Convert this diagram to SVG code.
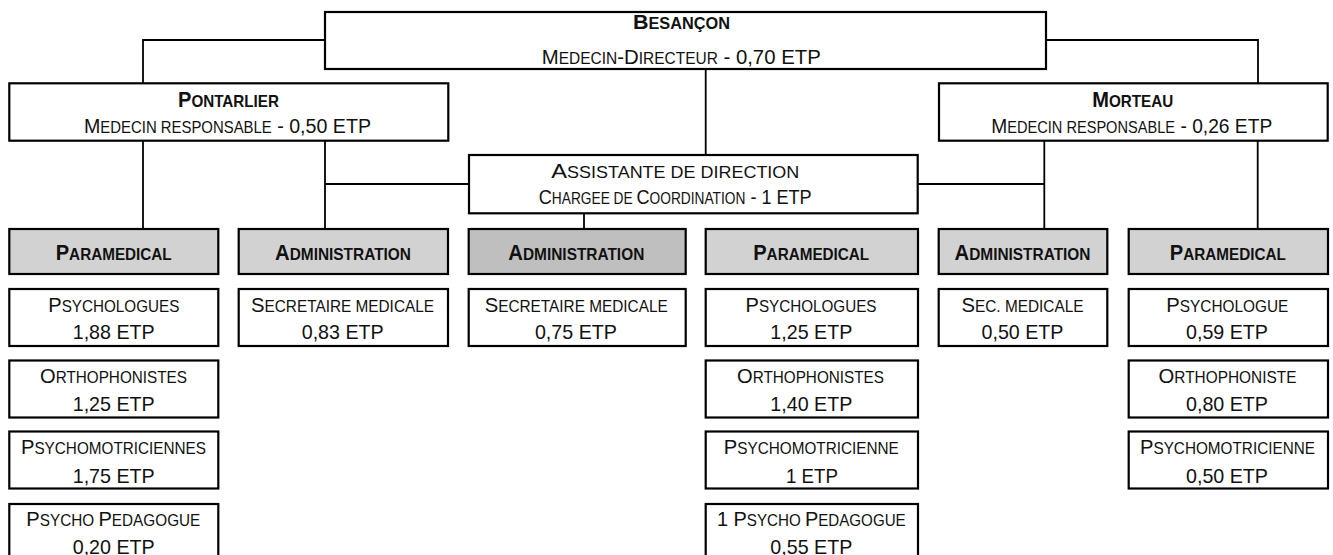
<svg xmlns="http://www.w3.org/2000/svg" width="1333" height="555" viewBox="0 0 1333 555">
  <style>
    .box { fill: #ffffff; stroke: #000000; stroke-width: 2.2; }
    .hdr { fill: #d2d2d2; }
    .hdr-dark { fill: #bfbfbf; }
    .link { fill: none; stroke: #000000; stroke-width: 1.8; }
    text { font-family: "Liberation Sans", Arial, sans-serif; text-anchor: middle; fill: #111111; }
    .t { font-size: 21px; }
    .s { font-size: 20.5px; }
    .b { font-size: 22px; font-weight: bold; }
    .bt { font-size: 20.5px; font-weight: bold; }
    .sc { font-size: 0.76em; }
  </style>
  <rect width="1333" height="555" fill="#ffffff"/>

  <!-- connectors -->
  <g id="connectors">
    <path class="link" d="M325,40 H143 V83"/>
    <path class="link" d="M1046,40 H1258 V83"/>
    <path class="link" d="M705.7,69 V155"/>
    <path class="link" d="M143,141 V229"/>
    <path class="link" d="M325,141 V229"/>
    <path class="link" d="M325,184 H469"/>
    <path class="link" d="M1044.3,141 V229"/>
    <path class="link" d="M1257.7,141 V229"/>
    <path class="link" d="M918,184 H1044.3"/>
    <path class="link" d="M584,213 V229"/>
  </g>

  <!-- management -->
  <g id="besancon">
    <rect class="box" x="325" y="12" width="721" height="57"/>
    <text class="bt" x="681.5" y="28.5" textLength="97" lengthAdjust="spacingAndGlyphs">B<tspan class="sc">ESANÇON</tspan></text>
    <text class="s" x="681.3" y="64" textLength="279" lengthAdjust="spacingAndGlyphs">M<tspan class="sc">EDECIN</tspan>-D<tspan class="sc">IRECTEUR</tspan> - 0,70 ETP</text>
  </g>
  <g id="pontarlier">
    <rect class="box" x="9.3" y="83.3" width="439" height="57.4"/>
    <text class="b" x="228.5" y="106.7" textLength="101" lengthAdjust="spacingAndGlyphs">P<tspan class="sc">ONTARLIER</tspan></text>
    <text class="s" x="227.5" y="133.3" textLength="287" lengthAdjust="spacingAndGlyphs">M<tspan class="sc">EDECIN RESPONSABLE</tspan> - 0,50 ETP</text>
  </g>
  <g id="morteau">
    <rect class="box" x="939" y="83.3" width="388.7" height="57.4"/>
    <text class="b" x="1132.7" y="106.7" textLength="81" lengthAdjust="spacingAndGlyphs">M<tspan class="sc">ORTEAU</tspan></text>
    <text class="s" x="1131.7" y="133.3" textLength="281" lengthAdjust="spacingAndGlyphs">M<tspan class="sc">EDECIN RESPONSABLE</tspan> - 0,26 ETP</text>
  </g>
  <g id="assistante">
    <rect class="box" x="469" y="155" width="448.7" height="58.3"/>
    <text class="s" x="675.3" y="178.3" textLength="248" lengthAdjust="spacingAndGlyphs">A<tspan class="sc">SSISTANTE DE DIRECTION</tspan></text>
    <text class="s" transform="translate(675.2,204) scale(0.882,1)" x="0" y="0">C<tspan class="sc">HARGEE DE </tspan>C<tspan class="sc">OORDINATION</tspan> - 1 ETP</text>
  </g>

  <!-- section headers -->
  <g id="hdr-pontarlier-paramedical">
    <rect class="box hdr" x="9.3" y="229" width="209" height="45"/>
    <text class="b" x="113.7" y="260" textLength="116" lengthAdjust="spacingAndGlyphs">P<tspan class="sc">ARAMEDICAL</tspan></text>
  </g>
  <g id="hdr-pontarlier-administration">
    <rect class="box hdr" x="238.7" y="229" width="209.3" height="45"/>
    <text class="b" x="343" y="260" textLength="136" lengthAdjust="spacingAndGlyphs">A<tspan class="sc">DMINISTRATION</tspan></text>
  </g>
  <g id="hdr-besancon-administration">
    <rect class="box hdr-dark" x="468.7" y="229" width="217" height="45"/>
    <text class="b" x="576.3" y="260" textLength="136" lengthAdjust="spacingAndGlyphs">A<tspan class="sc">DMINISTRATION</tspan></text>
  </g>
  <g id="hdr-besancon-paramedical">
    <rect class="box hdr" x="705.7" y="229" width="212.3" height="45"/>
    <text class="b" x="811.2" y="260" textLength="116" lengthAdjust="spacingAndGlyphs">P<tspan class="sc">ARAMEDICAL</tspan></text>
  </g>
  <g id="hdr-morteau-administration">
    <rect class="box hdr" x="938.7" y="229" width="168.6" height="45"/>
    <text class="b" x="1022.5" y="260" textLength="136" lengthAdjust="spacingAndGlyphs">A<tspan class="sc">DMINISTRATION</tspan></text>
  </g>
  <g id="hdr-morteau-paramedical">
    <rect class="box hdr" x="1128.7" y="229" width="199.3" height="45"/>
    <text class="b" x="1227.8" y="260" textLength="116" lengthAdjust="spacingAndGlyphs">P<tspan class="sc">ARAMEDICAL</tspan></text>
  </g>

  <!-- Pontarlier paramedical staff -->
  <g id="p-psychologues">
    <rect class="box" x="9.3" y="289" width="209" height="57"/>
    <text class="t" x="113.8" y="311.7" textLength="131" lengthAdjust="spacingAndGlyphs">P<tspan class="sc">SYCHOLOGUES</tspan></text>
    <text class="t" x="113.7" y="339.3" textLength="82" lengthAdjust="spacingAndGlyphs">1,88 ETP</text>
  </g>
  <g id="p-orthophonistes">
    <rect class="box" x="9.3" y="360.5" width="209" height="57"/>
    <text class="t" x="113.5" y="383.3" textLength="147" lengthAdjust="spacingAndGlyphs">O<tspan class="sc">RTHOPHONISTES</tspan></text>
    <text class="t" x="113.7" y="410.7" textLength="82" lengthAdjust="spacingAndGlyphs">1,25 ETP</text>
  </g>
  <g id="p-psychomotriciennes">
    <rect class="box" x="9.3" y="431.5" width="209" height="57"/>
    <text class="t" x="113.5" y="454.3" textLength="185" lengthAdjust="spacingAndGlyphs">P<tspan class="sc">SYCHOMOTRICIENNES</tspan></text>
    <text class="t" x="113.7" y="482.7" textLength="82" lengthAdjust="spacingAndGlyphs">1,75 ETP</text>
  </g>
  <g id="p-psychopedagogue">
    <rect class="box" x="9.3" y="504" width="209" height="57"/>
    <text class="t" x="113.3" y="526" textLength="174" lengthAdjust="spacingAndGlyphs">P<tspan class="sc">SYCHO </tspan>P<tspan class="sc">EDAGOGUE</tspan></text>
    <text class="t" x="113.7" y="553.5" textLength="82" lengthAdjust="spacingAndGlyphs">0,20 ETP</text>
  </g>

  <!-- Pontarlier administration -->
  <g id="p-secretaire">
    <rect class="box" x="238.7" y="289" width="209.3" height="57"/>
    <text class="t" x="342.5" y="311.7" textLength="183" lengthAdjust="spacingAndGlyphs">S<tspan class="sc">ECRETAIRE MEDICALE</tspan></text>
    <text class="t" x="342.7" y="339.3" textLength="82" lengthAdjust="spacingAndGlyphs">0,83 ETP</text>
  </g>

  <!-- Besançon administration -->
  <g id="b-secretaire">
    <rect class="box" x="468.7" y="289" width="217" height="57"/>
    <text class="t" x="576.2" y="311.7" textLength="183" lengthAdjust="spacingAndGlyphs">S<tspan class="sc">ECRETAIRE MEDICALE</tspan></text>
    <text class="t" x="575.9" y="339.3" textLength="82" lengthAdjust="spacingAndGlyphs">0,75 ETP</text>
  </g>

  <!-- Besançon paramedical staff -->
  <g id="b-psychologues">
    <rect class="box" x="705.7" y="289" width="212.3" height="57"/>
    <text class="t" x="811" y="311.7" textLength="131" lengthAdjust="spacingAndGlyphs">P<tspan class="sc">SYCHOLOGUES</tspan></text>
    <text class="t" x="811.3" y="339.3" textLength="82" lengthAdjust="spacingAndGlyphs">1,25 ETP</text>
  </g>
  <g id="b-orthophonistes">
    <rect class="box" x="705.7" y="360.5" width="212.3" height="57"/>
    <text class="t" x="810.5" y="383.3" textLength="147" lengthAdjust="spacingAndGlyphs">O<tspan class="sc">RTHOPHONISTES</tspan></text>
    <text class="t" x="811.3" y="410.7" textLength="82" lengthAdjust="spacingAndGlyphs">1,40 ETP</text>
  </g>
  <g id="b-psychomotricienne">
    <rect class="box" x="705.7" y="431.5" width="212.3" height="57"/>
    <text class="t" x="811.3" y="454.3" textLength="175" lengthAdjust="spacingAndGlyphs">P<tspan class="sc">SYCHOMOTRICIENNE</tspan></text>
    <text class="t" x="812" y="482.7" textLength="52" lengthAdjust="spacingAndGlyphs">1 ETP</text>
  </g>
  <g id="b-psychopedagogue">
    <rect class="box" x="705.7" y="504" width="212.3" height="57"/>
    <text class="t" transform="translate(811.3,526) scale(0.95,1)" x="0" y="0">1 P<tspan class="sc">SYCHO </tspan>P<tspan class="sc">EDAGOGUE</tspan></text>
    <text class="t" x="811.3" y="553.5" textLength="82" lengthAdjust="spacingAndGlyphs">0,55 ETP</text>
  </g>

  <!-- Morteau administration -->
  <g id="m-secretaire">
    <rect class="box" x="938.7" y="289" width="168.6" height="57"/>
    <text class="t" x="1022.5" y="311.7" textLength="122" lengthAdjust="spacingAndGlyphs">S<tspan class="sc">EC. MEDICALE</tspan></text>
    <text class="t" x="1022.5" y="339.3" textLength="82" lengthAdjust="spacingAndGlyphs">0,50 ETP</text>
  </g>

  <!-- Morteau paramedical staff -->
  <g id="m-psychologue">
    <rect class="box" x="1128.7" y="289" width="199.3" height="57"/>
    <text class="t" x="1227.3" y="311.7" textLength="122" lengthAdjust="spacingAndGlyphs">P<tspan class="sc">SYCHOLOGUE</tspan></text>
    <text class="t" x="1227" y="339.3" textLength="82" lengthAdjust="spacingAndGlyphs">0,59 ETP</text>
  </g>
  <g id="m-orthophoniste">
    <rect class="box" x="1128.7" y="360.5" width="199.3" height="57"/>
    <text class="t" x="1227.5" y="383.3" textLength="138" lengthAdjust="spacingAndGlyphs">O<tspan class="sc">RTHOPHONISTE</tspan></text>
    <text class="t" x="1227" y="410.7" textLength="82" lengthAdjust="spacingAndGlyphs">0,80 ETP</text>
  </g>
  <g id="m-psychomotricienne">
    <rect class="box" x="1128.7" y="431.5" width="199.3" height="57"/>
    <text class="t" x="1227.5" y="454.3" textLength="175" lengthAdjust="spacingAndGlyphs">P<tspan class="sc">SYCHOMOTRICIENNE</tspan></text>
    <text class="t" x="1227" y="482.7" textLength="82" lengthAdjust="spacingAndGlyphs">0,50 ETP</text>
  </g>
</svg>
